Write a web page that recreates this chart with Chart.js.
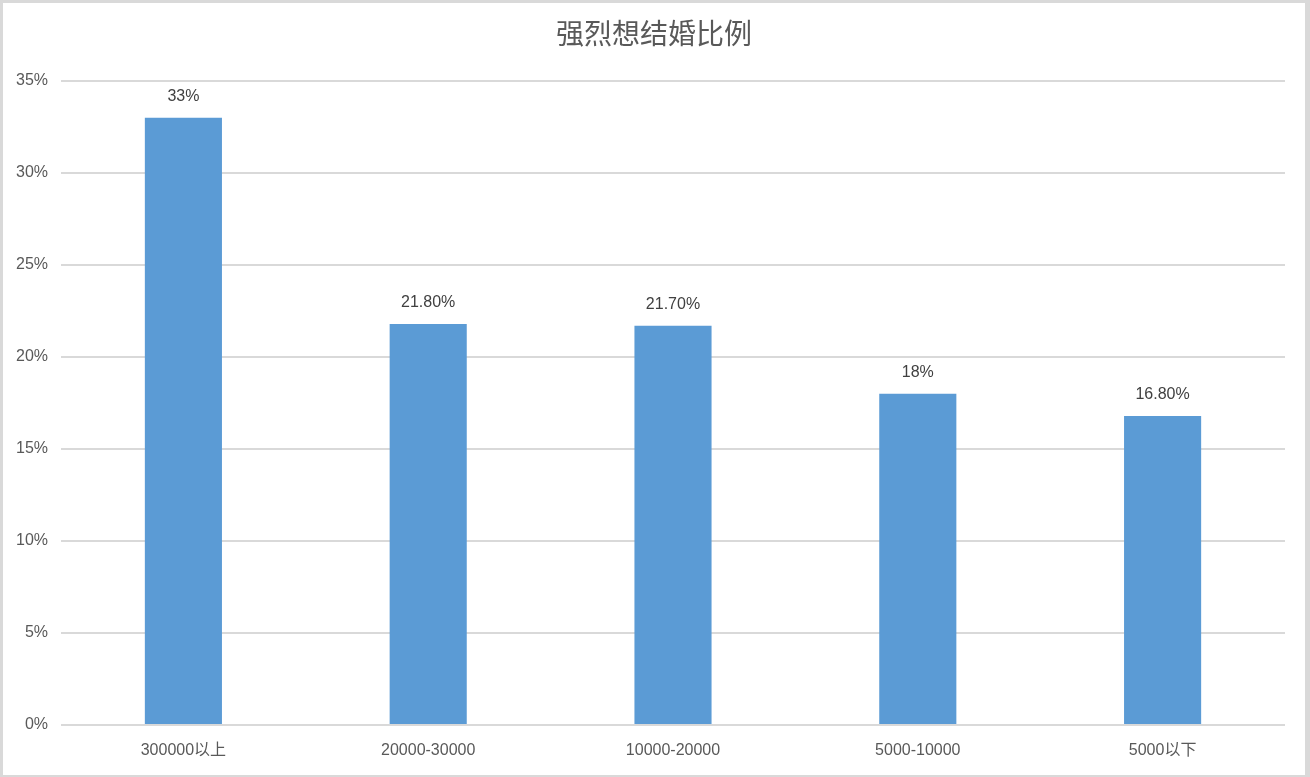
<!DOCTYPE html>
<html>
<head>
<meta charset="utf-8">
<script src="https://cdn.jsdelivr.net/npm/chart.js@4"></script>
<style>
    html, body { margin: 0; padding: 0; background: #fff; }
    #wrap {
        width: 1310px; height: 777px; box-sizing: border-box;
        border-style: solid; border-color: #d9d9d9;
        border-width: 3px 5px 2px 3px;
    }
</style>
</head>
<body>
<div id="wrap"><canvas id="marriageChart" width="1302" height="772"></canvas></div>
<script>
// Data
const categories = ['300000以上', '20000-30000', '10000-20000', '5000-10000', '5000以下'];
const values = [33, 21.8, 21.7, 18, 16.8];
const valueLabels = ['33%', '21.80%', '21.70%', '18%', '16.80%'];
const chartTitle = '强烈想结婚比例';

const FONT = "'Liberation Sans', 'Noto Sans CJK SC', sans-serif";

// Title + bar labels drawn by hand
const decorations = {
    id: 'decorations',
    afterDatasetsDraw(chart) {
        const ctx = chart.ctx;
        ctx.save();
        ctx.textAlign = 'center';
        ctx.textBaseline = 'middle';
        ctx.fillStyle = '#595959';
        ctx.font = "28px 'Noto Sans CJK SC', sans-serif";
        ctx.fillText(chartTitle, chart.width / 2, 30);

        ctx.fillStyle = '#404040';
        ctx.font = '16px ' + FONT;
        chart.getDatasetMeta(0).data.forEach((bar, i) => {
            ctx.fillText(valueLabels[i], bar.x, bar.y - 21);
        });
        ctx.restore();
    }
};

document.addEventListener('DOMContentLoaded', () => {
    new Chart(document.getElementById('marriageChart'), {
        type: 'bar',
        data: {
            labels: categories,
            datasets: [{
                data: values,
                backgroundColor: '#5b9bd5',
                categoryPercentage: 1,
                barPercentage: 0.315
            }]
        },
        options: {
            responsive: false,
            animation: false,
            layout: { padding: { top: 78, right: 20, left: 0, bottom: 0 } },
            plugins: {
                legend: { display: false },
                tooltip: { enabled: false }
            },
            scales: {
                y: {
                    min: 0,
                    max: 35,
                    afterFit: (axis) => { axis.width = 58; },
                    ticks: {
                        stepSize: 5,
                        padding: 13,
                        color: '#595959',
                        font: { size: 16, family: FONT },
                        callback: (v) => v + '%'
                    },
                    grid: { color: '#d9d9d9', lineWidth: 2, drawTicks: false },
                    border: { display: false }
                },
                x: {
                    afterFit: (axis) => { axis.height = 50; },
                    ticks: {
                        padding: 8,
                        color: '#595959',
                        font: { size: 16, family: FONT }
                    },
                    grid: { display: false },
                    border: { display: false }
                }
            }
        },
        plugins: [decorations]
    });
});
</script>
</body>
</html>
